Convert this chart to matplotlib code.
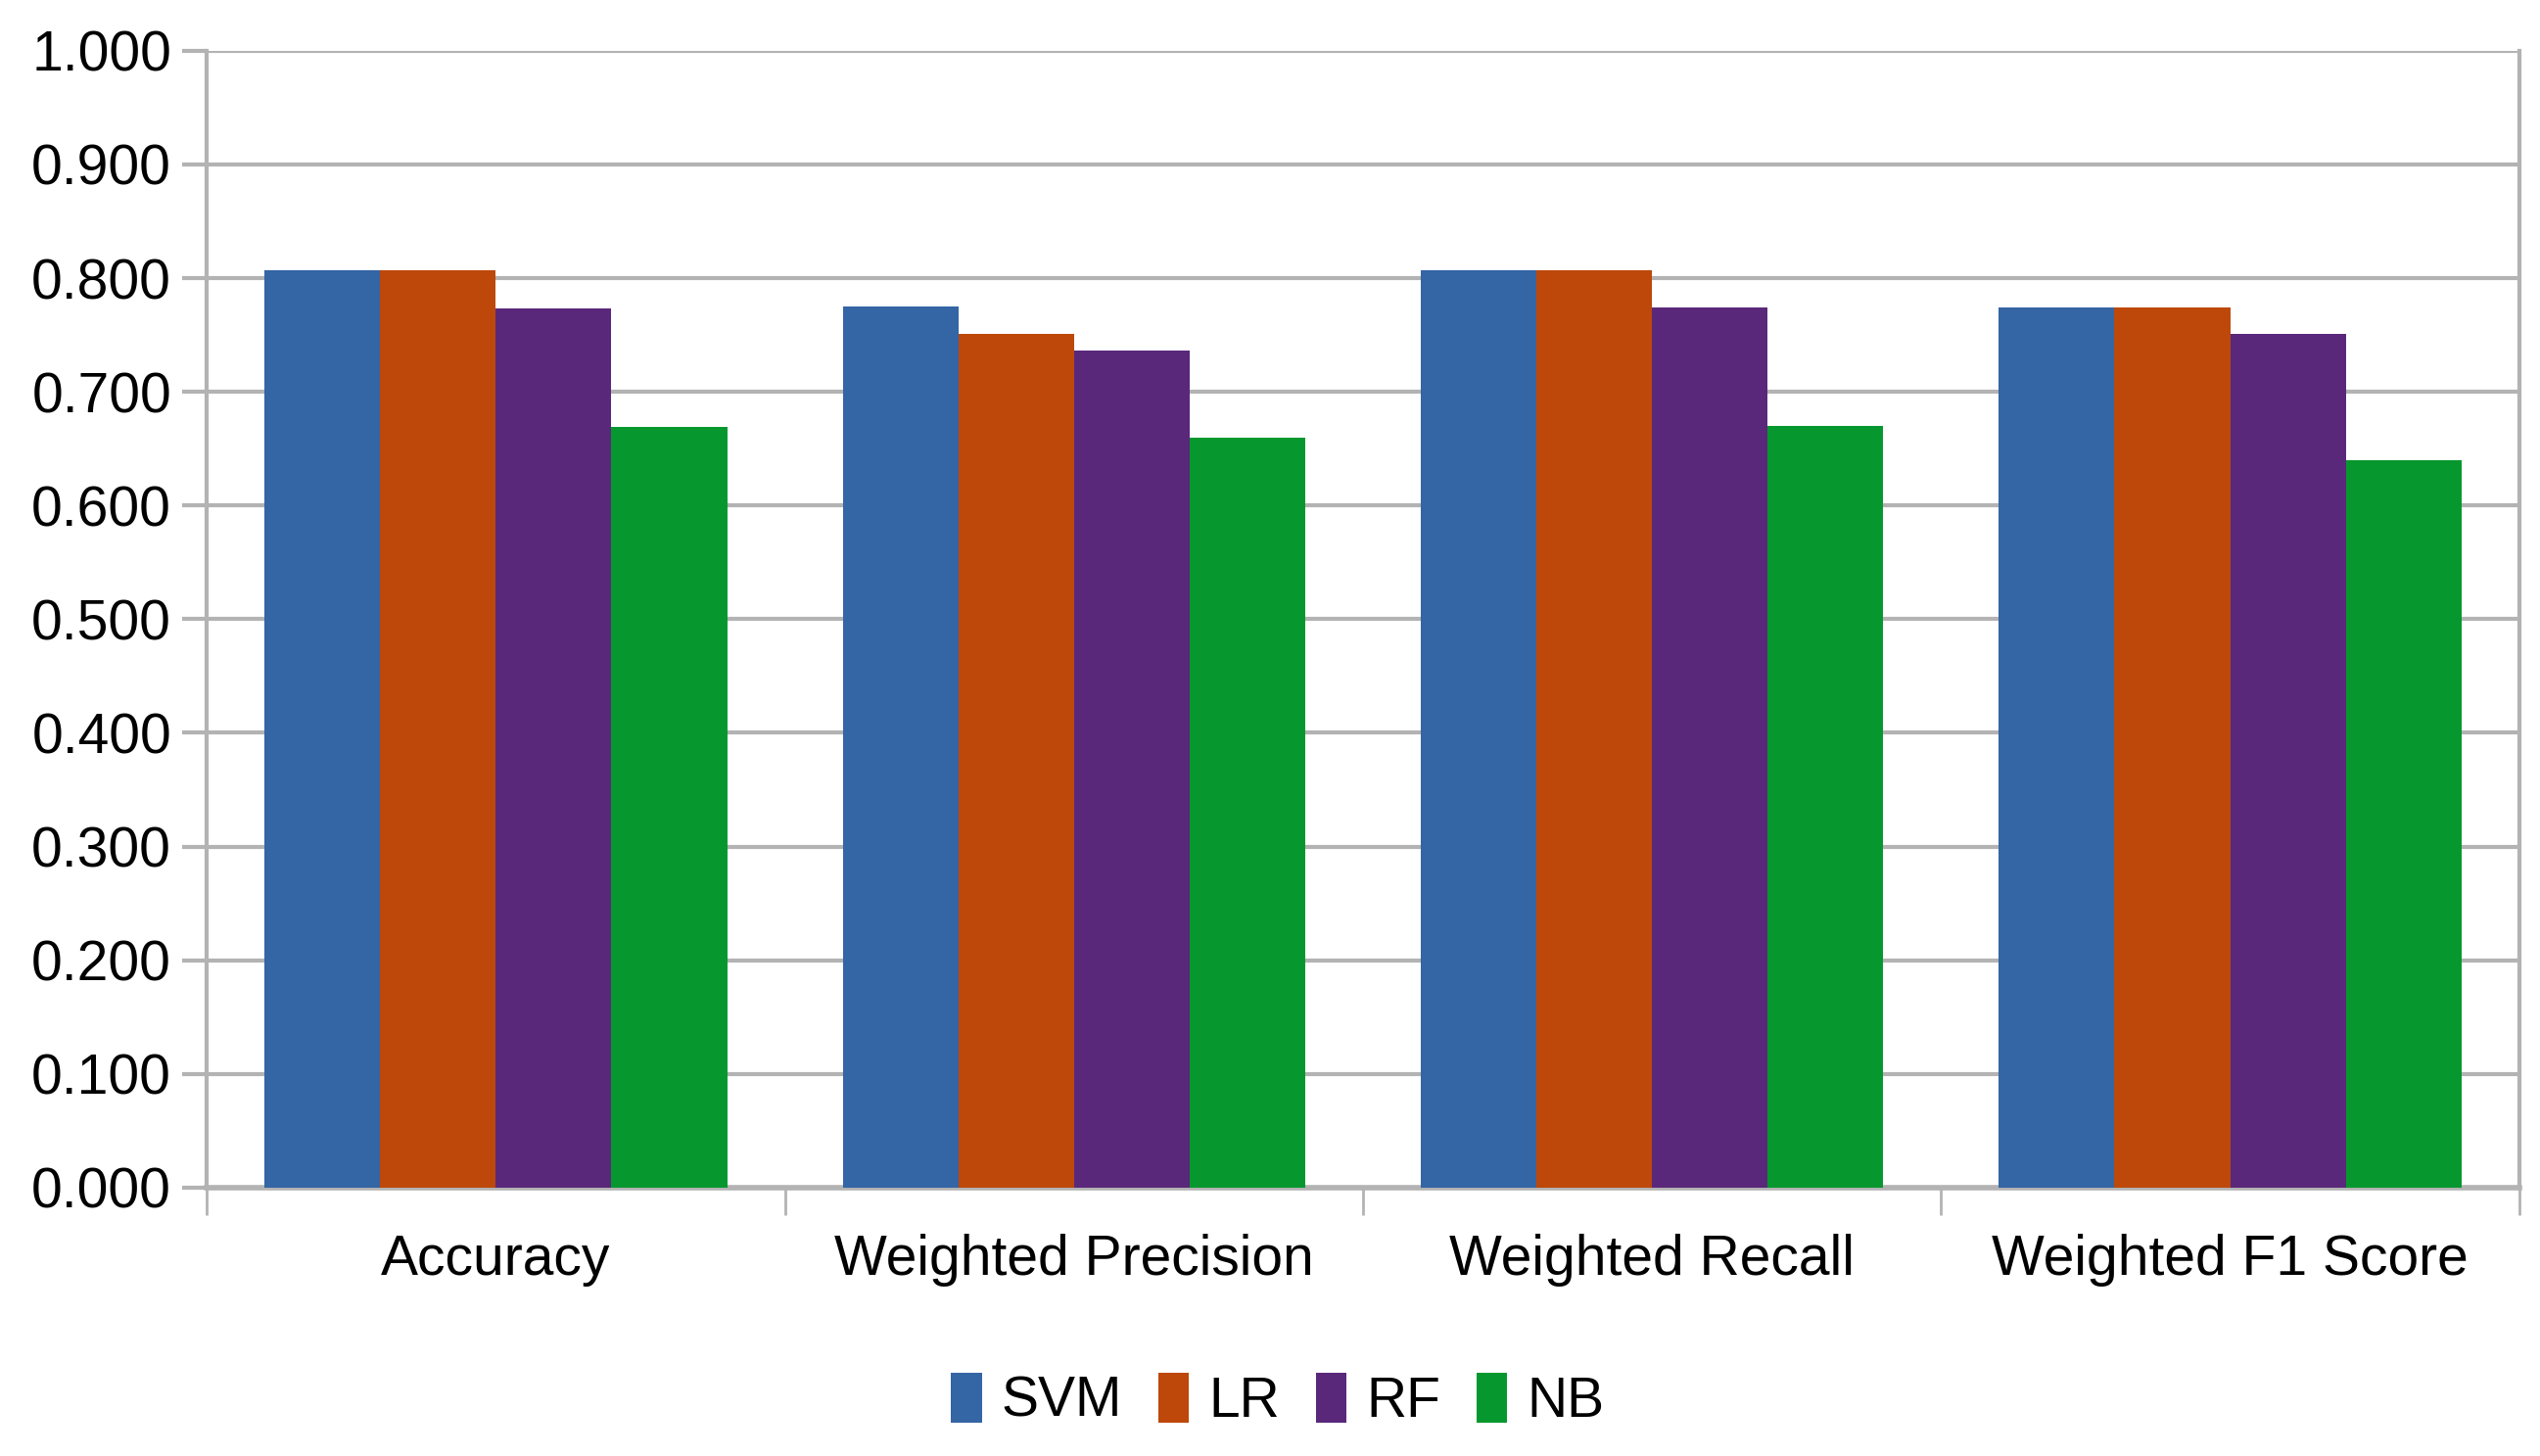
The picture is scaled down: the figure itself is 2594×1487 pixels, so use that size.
import numpy as np
import matplotlib
matplotlib.use("Agg")
import matplotlib.pyplot as plt

plt.rcParams['font.family'] = ['Liberation Sans', 'DejaVu Sans']

# data
categories = ['Accuracy', 'Weighted Precision', 'Weighted Recall', 'Weighted F1 Score']
models = ['SVM', 'LR', 'RF', 'NB']
svm = [0.807, 0.775, 0.807, 0.774]
lr = [0.807, 0.751, 0.807, 0.774]
rf = [0.773, 0.736, 0.774, 0.751]
nb = [0.669, 0.660, 0.670, 0.640]
y_ticks = [0.0, 0.1, 0.2, 0.3, 0.4, 0.5, 0.6, 0.7, 0.8, 0.9, 1.0]

colors = ['#3465a4', '#bd480a', '#5a287a', '#06982e']
grid_col = '#b3b3b3'

fig = plt.figure(figsize=(25.94, 14.87), dpi=100)
ax = fig.add_axes([0.0814, 0.1844, 0.9104, 0.7807])

x = np.arange(len(categories))
width = 0.2
for i, (name, vals) in enumerate(zip(models, [svm, lr, rf, nb])):
    ax.bar(x + (i - 1.5) * width, vals, width, color=colors[i], label=name, zorder=3)

ax.set_xlim(-0.5, len(categories) - 0.5)
ax.set_ylim(0, 1.0)
ax.set_yticks(y_ticks)
ax.set_yticklabels([f'{v:.3f}' for v in y_ticks])
ax.yaxis.grid(True, color=grid_col, linewidth=3, zorder=0)

# x ticks at category boundaries, labels centred
ax.set_xticks(np.arange(len(categories) + 1) - 0.5)
ax.set_xticklabels([])
ax.set_xticks(x, minor=True)
ax.set_xticklabels(categories, minor=True)
ax.tick_params(axis='x', which='major', length=20, width=2, color=grid_col)
ax.tick_params(axis='x', which='minor', length=0, pad=34, labelsize=41)
ax.tick_params(axis='y', length=18, width=3, color=grid_col, labelsize=41, pad=8)

for side in ['left', 'right', 'top']:
    ax.spines[side].set_color(grid_col)
    ax.spines[side].set_linewidth(3)
ax.spines['top'].set_visible(False)
ax.spines['bottom'].set_color(grid_col)
ax.spines['bottom'].set_linewidth(4)

fig.legend(loc='center', bbox_to_anchor=(0.503, 0.038), ncol=4, frameon=False,
           fontsize=41, handlelength=0.55, handleheight=1.0, handletextpad=0.35,
           columnspacing=0.65)

fig.savefig('out.png', dpi=100)
